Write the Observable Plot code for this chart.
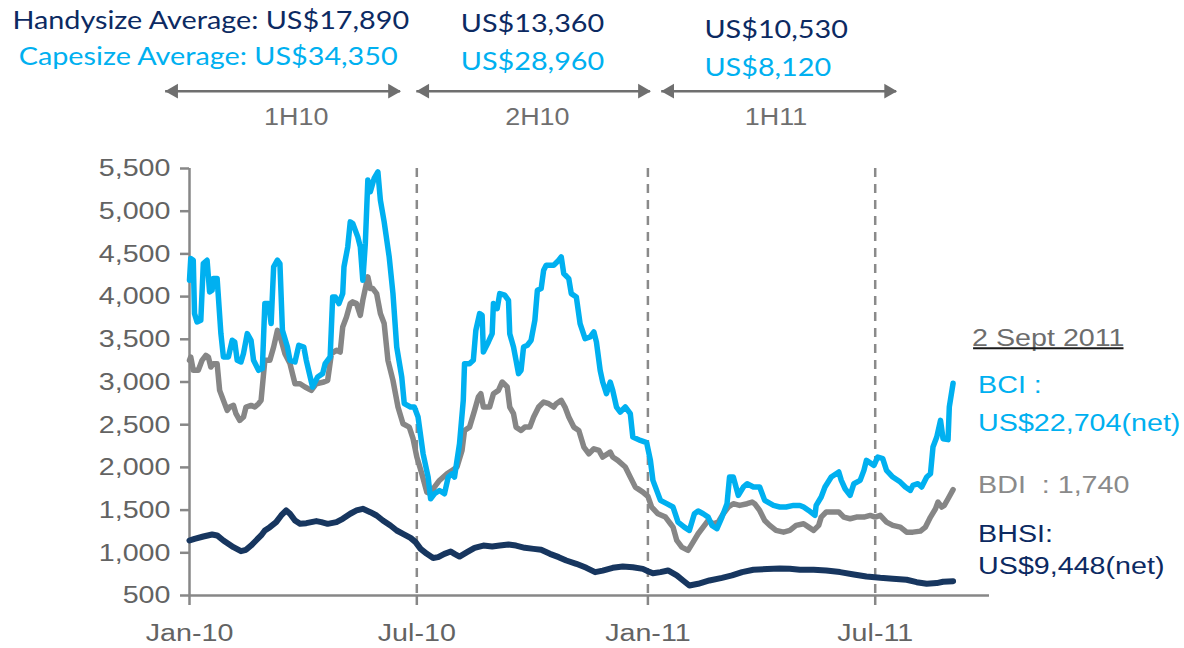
<!DOCTYPE html>
<html><head><meta charset="utf-8">
<script src="https://cdn.jsdelivr.net/npm/d3@7"></script>
<script src="https://cdn.jsdelivr.net/npm/@observablehq/plot@0.6"></script>
<style>html,body{margin:0;padding:0;background:#fff}#chart svg{display:block}</style>
</head><body><div id="chart"></div>
<script>
// ---------- data ----------
const bci = [
["2010-01-01",4192],["2010-01-02",4446],["2010-01-04",4426],["2010-01-05",3801],["2010-01-07",3703],["2010-01-10",3723],["2010-01-12",4387],["2010-01-15",4426],["2010-01-17",4055],["2010-01-19",4075],["2010-01-20",4212],["2010-01-23",4212],["2010-01-26",3567],["2010-01-28",3293],["2010-02-01",3293],["2010-02-04",3489],["2010-02-06",3469],["2010-02-08",3254],["2010-02-11",3234],["2010-02-13",3333],["2010-02-16",3567],["2010-02-19",3489],["2010-02-21",3254],["2010-02-25",3137],["2010-02-28",3157],["2010-03-02",3919],["2010-03-05",3919],["2010-03-07",3684],["2010-03-09",4348],["2010-03-12",4426],["2010-03-14",4387],["2010-03-16",3606],["2010-03-20",3410],["2010-03-22",3254],["2010-03-26",3234],["2010-03-29",3430],["2010-04-02",3410],["2010-04-04",3254],["2010-04-09",2941],["2010-04-13",3059],["2010-04-17",3098],["2010-04-19",3215],["2010-04-23",3293],["2010-04-25",3996],["2010-04-27",3996],["2010-04-30",3919],["2010-05-03",4036],["2010-05-04",4348],["2010-05-07",4582],["2010-05-09",4875],["2010-05-11",4856],["2010-05-15",4699],["2010-05-17",4582],["2010-05-19",4192],["2010-05-21",4622],["2010-05-23",5364],["2010-05-25",5227],["2010-05-28",5384],["2010-05-31",5461],["2010-06-02",5129],["2010-06-05",4875],["2010-06-09",4465],["2010-06-12",4036],["2010-06-15",3410],["2010-06-19",3059],["2010-06-21",2747],["2010-06-26",2707],["2010-06-29",2707],["2010-07-02",2590],["2010-07-06",2160],["2010-07-10",1886],["2010-07-12",1632],["2010-07-15",1691],["2010-07-19",1730],["2010-07-23",1691],["2010-07-26",1886],["2010-07-29",1925],["2010-07-31",1886],["2010-08-04",2277],["2010-08-07",2785],["2010-08-08",3215],["2010-08-12",3215],["2010-08-15",3254],["2010-08-17",3605],["2010-08-20",3801],["2010-08-22",3781],["2010-08-23",3351],["2010-08-27",3469],["2010-08-30",3566],["2010-08-31",3918],["2010-09-03",3859],["2010-09-05",4035],["2010-09-09",4016],["2010-09-12",3957],["2010-09-13",3566],["2010-09-16",3410],["2010-09-18",3254],["2010-09-20",3098],["2010-09-22",3137],["2010-09-24",3410],["2010-09-27",3430],["2010-09-30",3488],["2010-10-03",3723],["2010-10-05",4074],["2010-10-08",4094],["2010-10-10",4309],["2010-10-12",4367],["2010-10-18",4367],["2010-10-22",4426],["2010-10-24",4465],["2010-10-26",4270],["2010-10-30",4211],["2010-11-01",4035],["2010-11-05",3996],["2010-11-08",3684],["2010-11-12",3508],["2010-11-16",3527],["2010-11-19",3586],["2010-11-21",3469],["2010-11-24",3137],["2010-11-26",3000],["2010-11-29",2863],["2010-12-02",3000],["2010-12-04",2902],["2010-12-07",2707],["2010-12-10",2648],["2010-12-14",2707],["2010-12-18",2629],["2010-12-20",2355],["2010-12-26",2316],["2010-12-31",2290],["2011-01-03",2082],["2011-01-05",1848],["2011-01-11",1614],["2011-01-16",1575],["2011-01-21",1536],["2011-01-25",1360],["2011-01-30",1301],["2011-02-03",1262],["2011-02-07",1457],["2011-02-10",1489],["2011-02-14",1457],["2011-02-18",1418],["2011-02-21",1321],["2011-02-25",1282],["2011-03-01",1418],["2011-03-05",1575],["2011-03-07",1887],["2011-03-10",1887],["2011-03-14",1672],["2011-03-18",1770],["2011-03-21",1809],["2011-03-26",1770],["2011-03-31",1770],["2011-04-04",1614],["2011-04-11",1555],["2011-04-16",1536],["2011-04-21",1536],["2011-04-27",1555],["2011-05-02",1555],["2011-05-05",1536],["2011-05-09",1496],["2011-05-14",1438],["2011-05-15",1555],["2011-05-19",1653],["2011-05-22",1770],["2011-05-27",1887],["2011-06-02",1946],["2011-06-04",1848],["2011-06-07",1750],["2011-06-11",1672],["2011-06-14",1809],["2011-06-19",1848],["2011-06-22",1965],["2011-06-24",2082],["2011-06-30",2024],["2011-07-03",2122],["2011-07-07",2102],["2011-07-10",1965],["2011-07-15",1887],["2011-07-21",1828],["2011-07-25",1770],["2011-07-29",1731],["2011-07-31",1789],["2011-08-04",1809],["2011-08-07",1770],["2011-08-11",1887],["2011-08-14",1926],["2011-08-16",2239],["2011-08-19",2356],["2011-08-22",2551],["2011-08-24",2336],["2011-08-28",2325],["2011-08-29",2708],["2011-09-01",2985]
];
const bdi = [
["2010-01-01",3254],["2010-01-02",3293],["2010-01-04",3137],["2010-01-08",3137],["2010-01-11",3254],["2010-01-14",3312],["2010-01-16",3293],["2010-01-18",3176],["2010-01-20",3215],["2010-01-23",3215],["2010-01-25",2902],["2010-01-28",2785],["2010-01-31",2668],["2010-02-02",2707],["2010-02-05",2726],["2010-02-07",2629],["2010-02-10",2551],["2010-02-13",2590],["2010-02-15",2707],["2010-02-19",2726],["2010-02-22",2707],["2010-02-25",2746],["2010-02-27",2785],["2010-03-02",3254],["2010-03-06",3254],["2010-03-09",3410],["2010-03-12",3605],["2010-03-15",3488],["2010-03-18",3332],["2010-03-22",3215],["2010-03-26",2980],["2010-03-30",2980],["2010-04-03",2941],["2010-04-08",2902],["2010-04-12",2980],["2010-04-18",3000],["2010-04-21",3019],["2010-04-24",3332],["2010-04-28",3371],["2010-05-01",3351],["2010-05-03",3645],["2010-05-06",3762],["2010-05-09",3918],["2010-05-11",3938],["2010-05-14",3918],["2010-05-17",3781],["2010-05-19",3957],["2010-05-23",4231],["2010-05-25",4094],["2010-05-27",4094],["2010-05-30",4035],["2010-06-02",3801],["2010-06-05",3684],["2010-06-08",3254],["2010-06-12",3019],["2010-06-16",2707],["2010-06-20",2511],["2010-06-25",2472],["2010-06-28",2336],["2010-07-01",2121],["2010-07-05",1926],["2010-07-09",1710],["2010-07-12",1691],["2010-07-15",1769],["2010-07-19",1847],["2010-07-25",1925],["2010-07-29",1964],["2010-08-02",2004],["2010-08-06",2199],["2010-08-08",2433],["2010-08-12",2472],["2010-08-16",2668],["2010-08-19",2824],["2010-08-21",2863],["2010-08-23",2707],["2010-08-28",2707],["2010-08-31",2863],["2010-09-04",2902],["2010-09-07",3000],["2010-09-11",2941],["2010-09-13",2707],["2010-09-16",2629],["2010-09-18",2472],["2010-09-22",2433],["2010-09-25",2472],["2010-09-29",2472],["2010-10-02",2590],["2010-10-06",2707],["2010-10-10",2765],["2010-10-14",2746],["2010-10-18",2707],["2010-10-20",2746],["2010-10-24",2785],["2010-10-27",2707],["2010-10-30",2590],["2010-11-03",2472],["2010-11-07",2433],["2010-11-11",2238],["2010-11-15",2160],["2010-11-19",2218],["2010-11-23",2199],["2010-11-26",2121],["2010-12-02",2179],["2010-12-04",2121],["2010-12-08",2082],["2010-12-14",2004],["2010-12-18",1886],["2010-12-22",1769],["2010-12-28",1711],["2011-01-01",1660],["2011-01-04",1535],["2011-01-09",1457],["2011-01-15",1418],["2011-01-19",1340],["2011-01-21",1301],["2011-01-24",1145],["2011-01-28",1067],["2011-02-02",1028],["2011-02-06",1125],["2011-02-10",1223],["2011-02-14",1301],["2011-02-18",1379],["2011-02-22",1340],["2011-02-26",1360],["2011-03-02",1457],["2011-03-06",1536],["2011-03-10",1575],["2011-03-15",1555],["2011-03-21",1575],["2011-03-25",1594],["2011-03-27",1575],["2011-03-31",1496],["2011-04-04",1379],["2011-04-08",1321],["2011-04-13",1262],["2011-04-19",1242],["2011-04-24",1262],["2011-04-29",1321],["2011-05-05",1340],["2011-05-09",1301],["2011-05-13",1262],["2011-05-17",1321],["2011-05-19",1418],["2011-05-23",1477],["2011-05-29",1477],["2011-06-02",1477],["2011-06-06",1418],["2011-06-11",1399],["2011-06-16",1418],["2011-06-22",1418],["2011-06-27",1438],["2011-07-01",1418],["2011-07-05",1438],["2011-07-10",1360],["2011-07-15",1321],["2011-07-21",1301],["2011-07-26",1242],["2011-07-31",1242],["2011-08-06",1254],["2011-08-10",1301],["2011-08-14",1418],["2011-08-18",1516],["2011-08-20",1594],["2011-08-23",1536],["2011-08-25",1555],["2011-08-28",1633],["2011-09-01",1740]
];
const bhsi = [
["2010-01-01",1144],["2010-01-05",1164],["2010-01-12",1191],["2010-01-19",1214],["2010-01-23",1203],["2010-01-28",1144],["2010-02-05",1066],["2010-02-11",1019],["2010-02-15",1035],["2010-02-19",1085],["2010-02-23",1144],["2010-02-27",1203],["2010-03-02",1261],["2010-03-06",1300],["2010-03-11",1359],["2010-03-15",1437],["2010-03-19",1496],["2010-03-22",1457],["2010-03-26",1378],["2010-03-30",1339],["2010-04-04",1347],["2010-04-12",1371],["2010-04-16",1359],["2010-04-21",1339],["2010-04-28",1359],["2010-05-03",1398],["2010-05-09",1457],["2010-05-14",1496],["2010-05-19",1515],["2010-05-25",1476],["2010-05-30",1437],["2010-06-04",1378],["2010-06-10",1320],["2010-06-15",1261],["2010-06-20",1222],["2010-06-26",1175],["2010-06-30",1125],["2010-07-04",1046],["2010-07-09",988],["2010-07-14",940],["2010-07-18",949],["2010-07-23",988],["2010-07-28",1015],["2010-07-31",988],["2010-08-04",956],["2010-08-10",1007],["2010-08-16",1058],["2010-08-23",1085],["2010-08-30",1074],["2010-09-05",1085],["2010-09-12",1097],["2010-09-18",1085],["2010-09-25",1058],["2010-10-02",1046],["2010-10-08",1035],["2010-10-15",988],["2010-10-22",949],["2010-10-28",910],["2010-11-05",871],["2010-11-13",824],["2010-11-20",773],["2010-11-26",792],["2010-12-04",824],["2010-12-12",839],["2010-12-20",831],["2010-12-28",812],["2011-01-01",785],["2011-01-05",760],["2011-01-11",774],["2011-01-17",793],["2011-01-24",735],["2011-01-29",676],["2011-02-03",617],["2011-02-10",637],["2011-02-19",676],["2011-03-01",707],["2011-03-09",735],["2011-03-17",774],["2011-03-26",801],["2011-04-06",809],["2011-04-16",817],["2011-04-24",813],["2011-05-02",801],["2011-05-13",801],["2011-05-23",793],["2011-06-03",774],["2011-06-14",746],["2011-06-24",723],["2011-07-05",707],["2011-07-15",696],["2011-07-26",684],["2011-08-03",656],["2011-08-11",637],["2011-08-19",645],["2011-08-24",661],["2011-09-01",668]
];

const yTicks = [500, 1000, 1500, 2000, 2500, 3000, 3500, 4000, 4500, 5000, 5500];
const xTicks = ["2010-01-01", "2010-07-01", "2011-01-01", "2011-07-01"];
const halfYearLines = ["2010-07-01", "2011-01-01", "2011-07-01"];
const xDomainDates = ["2010-01-01", "2011-09-30"];

const periodNames = ["1H10", "2H10", "1H11"];
const periodArrowStart = ["2009-12-13", "2010-07-01", "2011-01-12"];
const periodArrowEnd = ["2010-06-18", "2011-01-03", "2011-07-18"];
const periodLabelDate = ["2010-03-27", "2010-10-05", "2011-04-13"];
const handysizeAvg = ["Handysize Average: US$17,890", "US$13,360", "US$10,530"];
const capesizeAvg = ["Capesize Average: US$34,350", "US$28,960", "US$8,120"];
const handyTextDate = ["2009-08-13", "2010-08-05", "2011-02-15"];
const capeTextDate = ["2009-08-18", "2010-08-05", "2011-02-15"];

const asOfLabel = "2 Sept 2011";
const bciLabel = "BCI :\nUS$22,704(net)";
const bdiLabel = "BDI\u00a0 : 1,740";
const bhsiLabel = "BHSI:\nUS$9,448(net)";

// ---------- layout / style (not data) ----------
const annotLevel = {handy: [7222, 7186, 7116], cape: [6800, 6741, 6671], arrow: 6405, period: 6097};
const C = {bci: "#00b0f0", bdi: "#868686", bhsi: "#17365f", navy: "#0c2a62", axis: "#878787", tickText: "#636363", period: "#6f6f6f"};
const ARIAL = "'Liberation Sans', Arial, sans-serif";
const CALIBRI = "Lato, 'Open Sans', sans-serif";

const parse = d3.utcParse("%Y-%m-%d");
const rows = (arr) => arr.map(([d, v]) => ({date: parse(d), value: v}));
const BCI = rows(bci), BDI = rows(bdi), BHSI = rows(bhsi);
const periods = periodNames.map((p, i) => ({
  name: p, start: parse(periodArrowStart[i]), end: parse(periodArrowEnd[i]), mid: parse(periodLabelDate[i]),
  handy: handysizeAvg[i], cape: capesizeAvg[i], handyX: parse(handyTextDate[i]), capeX: parse(capeTextDate[i]),
  handyY: annotLevel.handy[i], capeY: annotLevel.cape[i]
}));
const lastBCI = BCI[BCI.length - 1], lastBDI = BDI[BDI.length - 1], lastBHSI = BHSI[BHSI.length - 1];

const chart = Plot.plot({
  width: 1184, height: 648,
  marginLeft: 189, marginRight: 195, marginTop: 168, marginBottom: 53,
  x: {type: "utc", domain: xDomainDates.map(parse)},
  y: {domain: [500, 5500]},
  style: {fontFamily: ARIAL, fontSize: "24px", background: "#fff", overflow: "visible"},
  marks: [
    Plot.ruleX(halfYearLines.map(parse), {stroke: "#8a8a8a", strokeWidth: 2.5, strokeDasharray: "9,7"}),
    Plot.axisY({ticks: yTicks, tickFormat: d3.format(","), tickSize: 9, tickPadding: 10, label: null,
      stroke: C.axis, strokeWidth: 2.5, fill: C.tickText, fontSize: 24.5}),
    Plot.axisX({ticks: xTicks.map(parse), tickFormat: d3.utcFormat("%b-%y"), tickSize: 10, tickPadding: 18, label: null,
      stroke: C.axis, strokeWidth: 2.5, fill: C.tickText, fontSize: 24.5}),
    Plot.ruleX([parse(xDomainDates[0])], {stroke: C.axis, strokeWidth: 2.5}),
    Plot.ruleY([500], {stroke: C.axis, strokeWidth: 2.5}),
    Plot.line(BHSI, {x: "date", y: "value", stroke: C.bhsi, strokeWidth: 6, strokeLinejoin: "round", strokeLinecap: "round"}),
    Plot.line(BDI, {x: "date", y: "value", stroke: C.bdi, strokeWidth: 5.5, strokeLinejoin: "round", strokeLinecap: "round"}),
    Plot.line(BCI, {x: "date", y: "value", stroke: C.bci, strokeWidth: 5.5, strokeLinejoin: "round", strokeLinecap: "round"}),
    // right-hand labels, anchored on the last data point of each series
    Plot.text([lastBCI], {x: "date", y: "value", text: () => asOfLabel, textAnchor: "start", lineAnchor: "top", dx: 19, dy: -55, fill: "#6d6d6d", fontSize: 24.5}),
    Plot.text([lastBCI], {x: "date", y: "value", text: () => bciLabel, textAnchor: "start", lineAnchor: "top", lineHeight: 1.55, dx: 25, dy: -17, fill: C.bci, fontSize: 24.5}),
    Plot.text([lastBDI], {x: "date", y: "value", text: () => bdiLabel, textAnchor: "start", lineAnchor: "middle", dx: 25, dy: -4, fill: "#8a8a8a", fontSize: 24.5}),
    Plot.text([lastBHSI], {x: "date", y: "value", text: () => bhsiLabel, textAnchor: "start", lineAnchor: "top", lineHeight: 1.3, dx: 25, dy: -62, fill: C.navy, fontSize: 24.5}),
    // top annotations: period averages and arrows
    Plot.text(periods, {x: "handyX", y: "handyY", text: "handy", textAnchor: "start", lineAnchor: "middle", fill: C.navy, fontFamily: CALIBRI, fontSize: 24.6}),
    Plot.text(periods, {x: "capeX", y: "capeY", text: "cape", textAnchor: "start", lineAnchor: "middle", fill: C.bci, fontFamily: CALIBRI, fontSize: 24.6}),
    Plot.ruleY(periods, {y: () => annotLevel.arrow, x1: "start", x2: "end", stroke: C.period, strokeWidth: 2.5}),
    Plot.dot(periods, {x: "start", y: () => annotLevel.arrow, symbol: "triangle", r: 5.5, rotate: -90, dx: 8, fill: C.period, stroke: "none"}),
    Plot.dot(periods, {x: "end", y: () => annotLevel.arrow, symbol: "triangle", r: 5.5, rotate: 90, dx: -8, fill: C.period, stroke: "none"}),
    Plot.text(periods, {x: "mid", y: () => annotLevel.period, text: "name", textAnchor: "middle", lineAnchor: "middle", fill: C.period, fontSize: 23})
  ]
});

document.getElementById("chart").appendChild(chart);

// horizontal stretch of the lettering, as in the reference
chart.querySelectorAll("text").forEach((t) => {
  const tr = t.getAttribute("transform") || "";
  t.setAttribute("transform", tr + " scale(1.17,1)");
});

// underline for the date label
const svgRect = chart.getBoundingClientRect();
chart.querySelectorAll("text").forEach((t) => {
  if (t.textContent === asOfLabel) {
    const r = t.getBoundingClientRect();
    const line = document.createElementNS("http://www.w3.org/2000/svg", "line");
    line.setAttribute("x1", r.left - svgRect.left + 1);
    line.setAttribute("x2", r.right - svgRect.left - 1);
    line.setAttribute("y1", r.bottom - svgRect.top - 3);
    line.setAttribute("y2", r.bottom - svgRect.top - 3);
    line.setAttribute("stroke", "#1a1a1a");
    line.setAttribute("stroke-width", 2);
    chart.appendChild(line);
  }
});
</script></body></html>
